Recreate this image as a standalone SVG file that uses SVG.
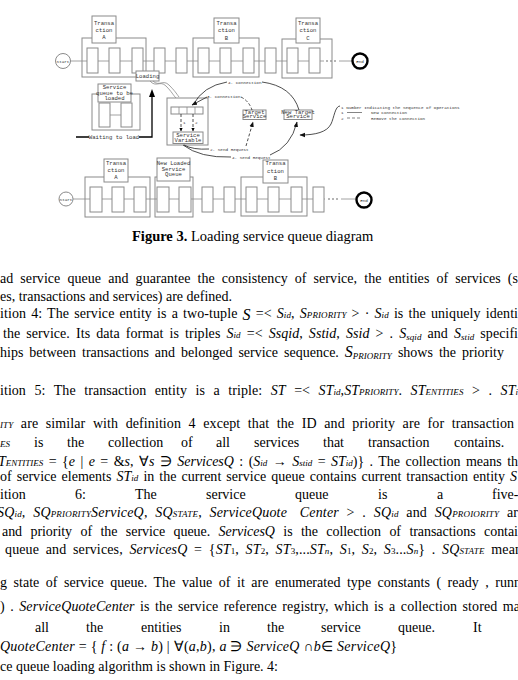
<svg xmlns="http://www.w3.org/2000/svg" width="518" height="680" viewBox="0 0 518 680">
<style>
.bx{fill:none;stroke:#8a8a8a;stroke-width:1}
.wb{fill:#fff;stroke:#8a8a8a;stroke-width:1}
.ln{fill:none;stroke:#8a8a8a;stroke-width:0.8}
.cn{fill:none;stroke:#222;stroke-width:0.8}
.dsh{stroke-dasharray:3 2}
.lt{font-family:"Liberation Mono",monospace;font-size:5.6px;fill:#333;text-anchor:middle}
.st{font-family:"Liberation Mono",monospace;font-size:4.3px;fill:#333}
.tx{font-family:"Liberation Serif",serif;font-size:14px;fill:#000}
.i{font-style:italic}
.sb{font-size:9px}
.cap{font-family:"Liberation Serif",serif;font-size:14.5px;fill:#000}
</style>
<defs>
<marker id="ah" viewBox="0 0 10 10" refX="9" refY="5" markerWidth="7" markerHeight="7" orient="auto"><path d="M0,1 L10,5 L0,9 z" fill="#111"/></marker>
<marker id="ahb" viewBox="0 0 10 10" refX="9" refY="5" markerWidth="5" markerHeight="4" orient="auto"><path d="M0,0 L10,5 L0,10 z" fill="#000"/></marker>
</defs>

<g id="rails">
<line class="ln" x1="70" y1="61" x2="324" y2="61"/>
<circle cx="327" cy="61" r="0.7" fill="#333"/><circle cx="331" cy="61" r="0.7" fill="#333"/><circle cx="335" cy="61" r="0.7" fill="#333"/>
<line class="ln" x1="339" y1="61" x2="353" y2="61"/>
<line class="ln" x1="73" y1="199" x2="325" y2="199"/>
<circle cx="329" cy="199" r="0.7" fill="#333"/><circle cx="333" cy="199" r="0.7" fill="#333"/><circle cx="337" cy="199" r="0.7" fill="#333"/>
<line class="ln" x1="341" y1="199" x2="356" y2="199"/>
</g>

<g id="start-top"><circle class="wb" cx="63" cy="61" r="7.5"/><text class="st" x="63" y="62.5" text-anchor="middle" font-size="3.6">Start</text></g>
<g id="end-top"><circle cx="360" cy="61" r="7.5" fill="#fff" stroke="#000" stroke-width="2.4"/><text class="st" x="360" y="62.5" text-anchor="middle" font-size="3.8">End</text></g>

<g id="trans-a-top">
<rect class="bx" x="82" y="38" width="64" height="39"/>
<rect class="wb" x="87" y="48" width="11" height="25"/><rect class="wb" x="109" y="48" width="11" height="25"/><rect class="wb" x="132" y="48" width="11" height="25"/>
<rect class="wb" x="92" y="16" width="24" height="27"/>
<text class="lt" x="104" y="25">Transa<tspan x="104" dy="7">ction</tspan><tspan x="104" dy="7">A</tspan></text>
</g>
<g id="free-top-1"><rect class="wb" x="154" y="48" width="11" height="25"/><rect class="wb" x="176" y="48" width="11" height="25"/></g>
<g id="trans-b-top">
<rect class="bx" x="193" y="38" width="66" height="39"/>
<rect class="wb" x="198" y="48" width="11" height="25"/><rect class="wb" x="220" y="48" width="11" height="25"/><rect class="wb" x="243" y="48" width="11" height="25"/>
<rect class="wb" x="214" y="18" width="25" height="25"/>
<text class="lt" x="226.5" y="25">Transa<tspan x="226.5" dy="7">ction</tspan><tspan x="226.5" dy="7.5">B</tspan></text>
</g>
<g id="free-top-2"><rect class="wb" x="265" y="48" width="11" height="25"/></g>
<g id="trans-c-top">
<rect class="bx" x="282" y="39" width="50" height="39"/>
<rect class="wb" x="287" y="48" width="11" height="25"/><rect class="wb" x="309" y="48" width="11" height="25"/>
<rect class="wb" x="296" y="18" width="24" height="25"/>
<text class="lt" x="308" y="25">Transa<tspan x="308" dy="7">ction</tspan><tspan x="308" dy="7.5">C</tspan></text>
</g>
<g id="loading"><rect class="wb" x="136" y="71" width="23" height="10"/><text class="lt" x="147.5" y="77.8" font-size="4.6">Loading</text></g>

<g id="queue-to-load">
<rect class="bx" x="92" y="94" width="48" height="36"/>
<line class="ln" x1="110" y1="115" x2="121" y2="115"/>
<rect class="wb" x="99" y="103" width="11" height="24"/><rect class="wb" x="121" y="103" width="11" height="24"/>
<rect class="wb" x="98" y="84" width="33" height="18"/>
<text class="lt" x="114.5" y="89" font-size="4.1">Service<tspan x="114.5" dy="5.6">queue to be</tspan><tspan x="114.5" dy="5.6">loaded</tspan></text>
</g>
<g id="waiting"><text class="lt" x="114" y="139" font-size="5.4" fill="#111">Waiting to load</text></g>

<g id="variable">
<rect class="bx" x="167" y="98" width="41" height="47"/>
<rect class="wb" x="171" y="107" width="32" height="7"/>
<line class="ln" x1="179" y1="107" x2="179" y2="114"/><line class="ln" x1="187" y1="107" x2="187" y2="114"/><line class="ln" x1="195" y1="107" x2="195" y2="114"/>
<rect class="wb" x="173" y="132" width="30" height="11.5"/>
<text class="lt" x="188" y="136.8" font-size="3.9">Service<tspan x="188" dy="5">Variable</tspan></text>
<text class="st" x="183" y="124" font-size="3.5">1</text><text class="st" x="195" y="124" font-size="3.5">2</text>
</g>
<g id="target"><rect class="wb" x="243" y="110" width="23" height="9.5"/><text class="lt" x="254.5" y="113.9" font-size="3.4">Target<tspan x="254.5" dy="4.5">Service</tspan></text></g>
<g id="new-target"><rect class="wb" x="284" y="110" width="28" height="9.5"/><text class="lt" x="298" y="113.9" font-size="3.4">New Target<tspan x="298" dy="4.5">Service</tspan></text></g>

<g id="legend">
<text class="st" x="341" y="108.5">1 Number Indicating the Sequence of Operations</text>
<text class="st" x="341" y="114">1</text><line x1="347" y1="112.5" x2="362" y2="112.5" stroke="#333" stroke-width="0.6"/><text class="st" x="371" y="114">New Connection</text>
<text class="st" x="341" y="119.5">2</text><line x1="347" y1="118" x2="362" y2="118" stroke="#333" stroke-width="0.6" stroke-dasharray="3 2"/><text class="st" x="371" y="119.5">Remove the connection</text>
</g>

<g id="start-bottom"><circle class="wb" cx="66" cy="199" r="7"/><text class="st" x="66" y="200.5" text-anchor="middle" font-size="3.6">Start</text></g>
<g id="end-bottom"><circle cx="364" cy="200" r="7.5" fill="#fff" stroke="#000" stroke-width="2.4"/><text class="st" x="364" y="201.5" text-anchor="middle" font-size="3.8">End</text></g>
<g id="trans-a-bottom">
<rect class="bx" x="85" y="177" width="65" height="40"/>
<rect class="wb" x="90" y="187" width="12" height="25"/><rect class="wb" x="112" y="187" width="12" height="25"/><rect class="wb" x="134" y="187" width="12" height="25"/>
<rect class="wb" x="104" y="159" width="24" height="23"/>
<text class="lt" x="116" y="165">Transa<tspan x="116" dy="7">ction</tspan><tspan x="116" dy="7">A</tspan></text>
</g>
<g id="new-loaded">
<rect class="bx" x="155" y="177" width="38" height="40"/>
<rect class="wb" x="157" y="187" width="12" height="25"/><rect class="wb" x="179" y="187" width="12" height="25"/>
<rect class="wb" x="157" y="158" width="33" height="23"/>
<text class="lt" x="173.5" y="165" font-size="4.2">New Loaded<tspan x="173.5" dy="5.5">Service</tspan><tspan x="173.5" dy="5.5">Queue</tspan></text>
</g>
<g id="free-bottom"><rect class="wb" x="202" y="187" width="11" height="25"/><rect class="wb" x="224" y="187" width="11" height="25"/></g>
<g id="trans-b-bottom">
<rect class="bx" x="241" y="177" width="66" height="39"/>
<rect class="wb" x="246" y="187" width="11" height="25"/><rect class="wb" x="268" y="187" width="11" height="25"/><rect class="wb" x="291" y="187" width="11" height="25"/>
<rect class="wb" x="263" y="160" width="25" height="23"/>
<text class="lt" x="275.5" y="165">Transa<tspan x="275.5" dy="7.5">ction</tspan><tspan x="275.5" dy="7">B</tspan></text>
</g>
<g id="free-bottom-2"><rect class="wb" x="313" y="187" width="11" height="25"/></g>

<g id="connectors">
<path d="M76,137 H89 M139,137 H152 V96" fill="none" stroke="#000" stroke-width="1.3"/>
<path d="M152,89 L149,97 L155,97 z" fill="#000"/>
<path class="ln" d="M150,81 C156,88 160,80 166,86 S173,95 176,98"/>
<path class="ln" d="M153,81 C159,87 163,79 169,85 S176,93 179,97"/>
<path class="cn" d="M207,97 L192,105" marker-end="url(#ah)"/>
<path class="cn" d="M193,105 Q203,86 227,82"/>
<path class="cn dsh" d="M241,97 Q249,101 252,110"/>
<path class="cn" d="M262,82 Q292,86 299,110"/>
<path class="cn dsh" d="M181,114 V131" marker-end="url(#ahb)"/>
<path class="cn dsh" d="M193,114 V131" marker-end="url(#ahb)"/>
<path class="cn" d="M184,145 Q193,150 209,149"/>
<path class="cn dsh" d="M246,146 L253,122" marker-end="url(#ah)"/>
<path class="cn" d="M183,145 Q200,158 231,157"/>
<path class="cn" d="M270,155 Q291,147 297,122" marker-end="url(#ah)"/>
<path class="cn" d="M340,106 C335,106 334,118 331,124 C327,132 316,135 300,135" marker-end="url(#ah)"/>
<text class="st" x="207" y="98">3. Connection</text>
<text class="st" x="228" y="83.5">4. Connection</text>
<text class="st" x="210" y="150.5">2. Send Request</text>
<text class="st" x="232" y="158.5">4. Send Request</text>
</g>

<g id="caption"><text class="cap" x="132" y="241"><tspan font-weight="bold">Figure 3.</tspan> Loading service queue diagram</text></g>

<g id="body">
<text class="tx" x="0" y="283" textLength="518" lengthAdjust="spacing" style="word-spacing:3.5px">ad service queue and guarantee the consistency of service, the entities of services (s</text>
<text class="tx" x="0" y="301">es, transactions and services) are defined.</text>
<text class="tx" x="0" y="318" textLength="518" lengthAdjust="spacing" style="word-spacing:1.5px">ition 4: The service entity is a two-tuple <tspan class="i" font-size="16" dy="2">S</tspan><tspan dy="-2"> =&lt; </tspan><tspan class="i">S</tspan><tspan class="i sb">id</tspan>, <tspan class="i">S</tspan><tspan class="i sb">PRIORITY</tspan> &gt; · <tspan class="i">S</tspan><tspan class="i sb">id</tspan> is the uniquely identi</text>
<text class="tx" x="3" y="338" textLength="515" lengthAdjust="spacing" style="word-spacing:2.5px">the service. Its data format is triples <tspan class="i">S</tspan><tspan class="i sb">id</tspan> =&lt; <tspan class="i">Ssqid</tspan>, <tspan class="i">Sstid</tspan>, <tspan class="i">Ssid</tspan> &gt; . <tspan class="i">S</tspan><tspan class="i sb" dy="2">sqid</tspan><tspan dy="-2"> and </tspan><tspan class="i">S</tspan><tspan class="i sb" dy="2">stid</tspan><tspan dy="-2"> specifi</tspan></text>
<text class="tx" x="0" y="357" textLength="504" lengthAdjust="spacing" style="word-spacing:2.5px">hips between transactions and belonged service sequence. <tspan class="i" font-size="16">S</tspan><tspan class="i sb" dy="2">PRIORITY</tspan><tspan dy="-2"> shows the priority</tspan></text>
<text class="tx" x="0" y="395" textLength="518" lengthAdjust="spacing" style="word-spacing:5px">ition 5: The transaction entity is a triple: <tspan class="i">ST</tspan> =&lt; <tspan class="i">ST</tspan><tspan class="i sb">id</tspan>,<tspan class="i">ST</tspan><tspan class="i sb">PRIORITY</tspan>. <tspan class="i">ST</tspan><tspan class="i sb">ENTITIES</tspan> &gt; . <tspan class="i">ST</tspan><tspan class="i sb">i</tspan></text>
<text class="tx" x="0" y="428" textLength="514" lengthAdjust="spacing" style="word-spacing:4px"><tspan class="i sb">ITY</tspan> are similar with definition 4 except that the ID and priority are for transaction</text>
<text class="tx" y="447"><tspan class="i sb" x="0">ES</tspan><tspan x="34">is</tspan><tspan x="67">the</tspan><tspan x="108">collection</tspan><tspan x="181">of</tspan><tspan x="216">all</tspan><tspan x="254">services</tspan><tspan x="323">that</tspan><tspan x="368">transaction</tspan><tspan x="454">contains.</tspan></text>
<text class="tx" x="-2" y="466" textLength="520" lengthAdjust="spacing" style="word-spacing:2px"><tspan class="i">T</tspan><tspan class="i sb">ENTITIES</tspan> = {<tspan class="i">e</tspan> | <tspan class="i">e</tspan> = &amp;<tspan class="i">s</tspan>, ∀<tspan class="i">s</tspan> ∋ <tspan class="i">ServicesQ</tspan> : (<tspan class="i">S</tspan><tspan class="i sb">id</tspan> → <tspan class="i">S</tspan><tspan class="i sb">stid</tspan> = <tspan class="i">ST</tspan><tspan class="i sb">id</tspan>)} . The collection means th</text>
<text class="tx" x="0" y="481" textLength="517" lengthAdjust="spacing" style="word-spacing:1.5px">of service elements <tspan class="i">ST</tspan><tspan class="i sb">id</tspan> in the current service queue contains current transaction entity <tspan class="i">S</tspan></text>
<text class="tx" y="499"><tspan x="0">ition</tspan><tspan x="75">6:</tspan><tspan x="135">The</tspan><tspan x="206">service</tspan><tspan x="295">queue</tspan><tspan x="378">is</tspan><tspan x="437">a</tspan><tspan x="492">five-</tspan></text>
<text class="tx" x="-3" y="517" textLength="521" lengthAdjust="spacing" style="word-spacing:4px"><tspan class="i">SQ</tspan><tspan class="i sb">id</tspan>, <tspan class="i">SQ</tspan><tspan class="i sb">PRIORITY</tspan><tspan class="i">ServiceQ</tspan>, <tspan class="i">SQ</tspan><tspan class="i sb">STATE</tspan>, <tspan class="i">ServiceQuote</tspan> <tspan class="i" dx="5">Center</tspan> &gt; . <tspan class="i">SQ</tspan><tspan class="i sb">id</tspan> and <tspan class="i">SQ</tspan><tspan class="i sb">PROIORITY</tspan> ar</text>
<text class="tx" x="2" y="536" textLength="516" lengthAdjust="spacing" style="word-spacing:5px">and priority of the service queue. <tspan class="i">ServicesQ</tspan> is the collection of transactions contai</text>
<text class="tx" x="5" y="554" textLength="517" lengthAdjust="spacing" style="word-spacing:3px">queue and services, <tspan class="i">ServicesQ</tspan> = {<tspan class="i">ST</tspan><tspan class="sb">1</tspan>, <tspan class="i">ST</tspan><tspan class="sb">2</tspan>, <tspan class="i">ST</tspan><tspan class="sb">3</tspan>,...<tspan class="i">ST</tspan><tspan class="i sb">n</tspan>, <tspan class="i">S</tspan><tspan class="sb">1</tspan>, <tspan class="i">S</tspan><tspan class="sb">2</tspan>, <tspan class="i">S</tspan><tspan class="sb">3</tspan>...<tspan class="i">S</tspan><tspan class="i sb">n</tspan>} . <tspan class="i">SQ</tspan><tspan class="i sb">STATE</tspan> mean</text>
<text class="tx" x="0" y="587" textLength="521" lengthAdjust="spacing" style="word-spacing:3px">g state of service queue. The value of it are enumerated type constants ( ready , runn</text>
<text class="tx" x="0" y="611" textLength="520" lengthAdjust="spacing" style="word-spacing:1.8px">) . <tspan class="i">ServiceQuoteCenter</tspan> is the service reference registry, which is a collection stored ma</text>
<text class="tx" y="632"><tspan x="35">all</tspan><tspan x="86">the</tspan><tspan x="141">entities</tspan><tspan x="219">in</tspan><tspan x="267">the</tspan><tspan x="321">service</tspan><tspan x="398">queue.</tspan><tspan x="473">It</tspan></text>
<text class="tx" x="0" y="651" textLength="397" lengthAdjust="spacing"><tspan class="i">QuoteCenter</tspan> = { <tspan class="i">f</tspan> : (<tspan class="i">a</tspan> → <tspan class="i">b</tspan>) | ∀(<tspan class="i">a</tspan>,<tspan class="i">b</tspan>), <tspan class="i">a</tspan> ∋ <tspan class="i">ServiceQ</tspan> ∩<tspan class="i">b</tspan>∈ <tspan class="i">ServiceQ</tspan>}</text>
<text class="tx" x="0" y="671">ce queue loading algorithm is shown in Figure. 4:</text>
</g>
</svg>
